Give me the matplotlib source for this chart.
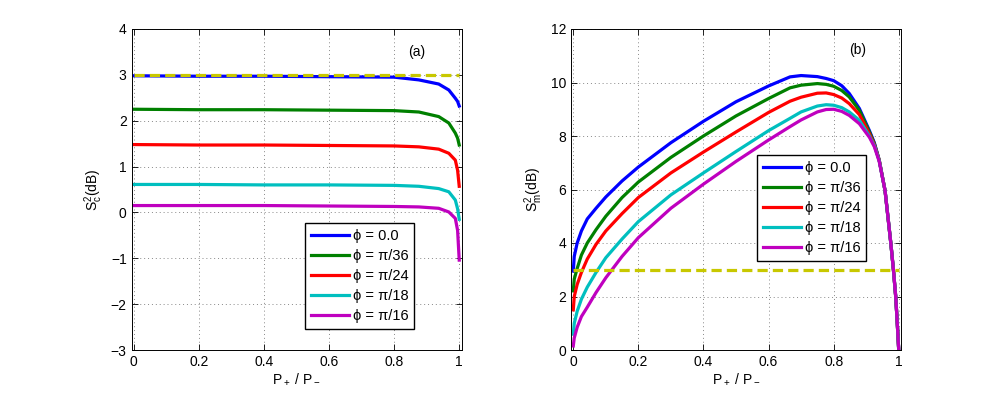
import matplotlib
matplotlib.use('Agg')
import matplotlib.pyplot as plt

plt.rcParams['font.family'] = ['Liberation Sans', 'DejaVu Sans']
plt.rcParams['mathtext.fontset'] = 'custom'
plt.rcParams['mathtext.rm'] = 'Liberation Sans'
plt.rcParams['mathtext.it'] = 'Liberation Sans'

# ---- data ----
labels = ['ϕ = 0.0', 'ϕ = π/36', 'ϕ = π/24', 'ϕ = π/18', 'ϕ = π/16']
colors = ['#0000ff', '#008000', '#ff0000', '#00bfbf', '#bf00bf']

# (a) S_c^2
xa = [0, 0.2, 0.4, 0.6, 0.8, 0.876, 0.937, 0.968, 0.988, 0.995, 1.0]
sc_blue = [2.98, 2.97, 2.97, 2.96, 2.95, 2.89, 2.80, 2.67, 2.49, 2.42, 2.32]
sc_green = [2.25, 2.24, 2.24, 2.23, 2.22, 2.19, 2.09, 1.95, 1.73, 1.62, 1.47]
sc_red = [1.48, 1.47, 1.47, 1.46, 1.45, 1.43, 1.38, 1.29, 1.14, 0.92, 0.57]
sc_cyan = [0.61, 0.61, 0.60, 0.60, 0.59, 0.57, 0.52, 0.45, 0.27, 0.08, -0.15]
sc_mag = [0.15, 0.15, 0.15, 0.14, 0.13, 0.12, 0.09, 0.01, -0.13, -0.39, -1.04]

# (b) S_m^2
xb = [0, 0.003, 0.012, 0.025, 0.043, 0.07, 0.1, 0.15, 0.2, 0.3, 0.4, 0.5, 0.6,
      0.666, 0.7, 0.75, 0.777, 0.8, 0.825, 0.848, 0.879, 0.91, 0.925, 0.94, 0.958,
      0.976, 0.984, 0.991, 0.996, 1.0]
sm_blue = [2.95, 3.5, 4.0, 4.45, 4.9, 5.3, 5.72, 6.32, 6.84, 7.75, 8.55, 9.28, 9.87,
           10.21, 10.26, 10.22, 10.15, 10.07, 9.88, 9.59, 9.03, 8.2, 7.75, 7.1, 5.96,
           3.96, 2.96, 1.96, 0.9, 0.0]
sm_green = [2.21, 2.65, 3.05, 3.55, 4.0, 4.5, 5.0, 5.7, 6.28, 7.2, 8.0, 8.75, 9.4,
            9.8, 9.9, 9.96, 9.93, 9.86, 9.7, 9.46, 8.96, 8.15, 7.72, 7.1, 5.96,
            3.96, 2.96, 1.96, 0.9, 0.0]
sm_red = [1.5, 2.0, 2.45, 2.9, 3.4, 3.95, 4.45, 5.1, 5.7, 6.62, 7.4, 8.15, 8.88,
          9.3, 9.45, 9.6, 9.61, 9.55, 9.42, 9.21, 8.8, 8.08, 7.68, 7.1, 5.96,
          3.96, 2.96, 1.96, 0.9, 0.0]
sm_cyan = [0.59, 1.0, 1.45, 1.9, 2.35, 2.9, 3.45, 4.15, 4.8, 5.8, 6.62, 7.42, 8.2,
           8.66, 8.9, 9.12, 9.17, 9.15, 9.06, 8.9, 8.59, 8.0, 7.64, 7.08, 5.96,
           3.96, 2.96, 1.96, 0.9, 0.0]
sm_mag = [0.15, 0.45, 0.85, 1.25, 1.6, 2.15, 2.7, 3.5, 4.2, 5.3, 6.2, 7.05, 7.85,
          8.35, 8.6, 8.9, 8.99, 9.0, 8.92, 8.77, 8.46, 7.95, 7.6, 7.05, 5.96,
          3.96, 2.96, 1.96, 0.9, 0.0]

ref_x = [0, 1]
ref_y = [3, 3]

sc_all = [sc_blue, sc_green, sc_red, sc_cyan, sc_mag]
sm_all = [sm_blue, sm_green, sm_red, sm_cyan, sm_mag]

fig = plt.figure(figsize=(9.97, 3.95), dpi=100)
ax1 = fig.add_axes([131.5/997, 45/395, 330/997, 321/395])
ax2 = fig.add_axes([571.0/997, 45/395, 330/997, 321/395])


def style(ax):
    ax.grid(True, linestyle=(0, (1, 3)), color='#888888', linewidth=0.7)
    ax.tick_params(direction='in', top=True, right=True, labelsize=10, length=4, width=0.6)
    for s in ax.spines.values():
        s.set_linewidth(0.7)
    ax.set_xlim(-0.007, 1.007)
    ax.set_xticks([0, 0.2, 0.4, 0.6, 0.8, 1])
    ax.set_xticklabels(['0', '0.2', '0.4', '0.6', '0.8', '1'])
    ax.set_xlabel(r'P$_+$ / P$_-$', fontsize=10, labelpad=2)


leg_kw = dict(fontsize=10.5, fancybox=False, edgecolor='black', framealpha=1,
              handlelength=2.6, handletextpad=0.25, borderpad=0.4,
              labelspacing=0.42, borderaxespad=0)

# panel (a)
for y, c, lab in zip(sc_all, colors, labels):
    ax1.plot(xa, y, color=c, linewidth=2.3, label=lab)
ax1.plot(ref_x, ref_y, color='#c8c800', linewidth=2.3, dashes=(3.2, 1.6))
ax1.set_ylim(-3, 4)
ax1.set_yticks(range(-3, 5))
ax1.set_yticklabels(['\u22123', '\u22122', '\u22121', '0', '1', '2', '3', '4'])
style(ax1)
ax1.set_ylabel(r'S$_\mathrm{c}^2$(dB)', fontsize=10, labelpad=4)
ax1.text(0.87, 3.5, '(a)', fontsize=10, ha='center', va='center')
ax1.legend(loc='lower right', bbox_to_anchor=(0.856, 0.065), **leg_kw)

# panel (b)
for y, c, lab in zip(sm_all, colors, labels):
    ax2.plot(xb, y, color=c, linewidth=2.3, label=lab)
ax2.plot(ref_x, ref_y, color='#c8c800', linewidth=2.3, dashes=(3.2, 1.6))
ax2.set_ylim(0, 12)
ax2.set_yticks(range(0, 13, 2))
style(ax2)
ax2.set_ylabel(r'S$_\mathrm{m}^2$(dB)', fontsize=10, labelpad=4)
ax2.text(0.875, 11.2, '(b)', fontsize=10, ha='center', va='center')
ax2.legend(loc='lower right', bbox_to_anchor=(0.895, 0.277), **leg_kw)

fig.savefig('out.png', dpi=100)
